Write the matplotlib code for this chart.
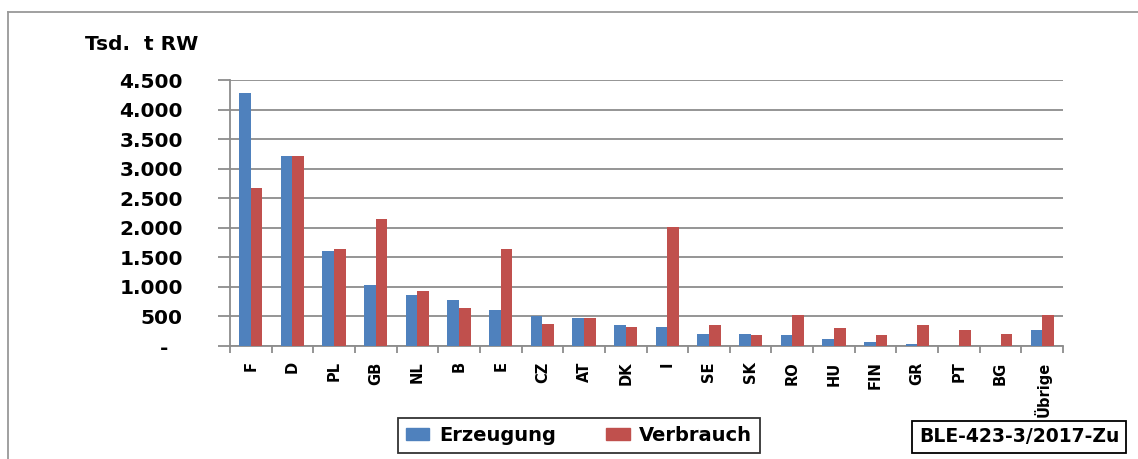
import matplotlib.pyplot as plt
import numpy as np
from matplotlib.lines import Line2D
from matplotlib.patches import Patch

laender = ['F', 'D', 'PL', 'GB', 'NL', 'B', 'E', 'CZ', 'AT', 'DK', 'I',
           'SE', 'SK', 'RO', 'HU', 'FIN', 'GR', 'PT', 'BG', 'Übrige']
erzeugung = [4275, 3215, 1615, 1040, 870, 785, 610, 500, 470, 355, 320,
             210, 210, 180, 125, 70, 40, 0, 0, 270]
verbrauch = [2675, 3215, 1640, 2155, 925, 640, 1640, 380, 470, 320, 2020,
             355, 180, 530, 300, 180, 355, 270, 210, 530]
y_ticks = [0, 500, 1000, 1500, 2000, 2500, 3000, 3500, 4000, 4500]
y_labels = ['-  ', '500', '1.000', '1.500', '2.000', '2.500', '3.000',
            '3.500', '4.000', '4.500']

blau = '#4F81BD'
rot = '#C0504D'
grau = '#8C8C8C'
plt.rcParams['font.family'] = ['DejaVu Sans']
plt.rcParams['font.weight'] = 'bold'

fig = plt.figure(figsize=(11.38, 4.59), dpi=100)
ax = fig.add_axes([230 / 1138, 1 - 346 / 459, (1063 - 230) / 1138, (346 - 80) / 459])

x = np.arange(len(laender))
w = 0.28
ax.bar(x - w / 2, erzeugung, w, color=blau, label='Erzeugung', zorder=3)
ax.bar(x + w / 2, verbrauch, w, color=rot, label='Verbrauch', zorder=3)

ax.set_xlim(-0.5, len(laender) - 0.5)
ax.set_ylim(0, 4500)
ax.set_yticks(y_ticks)
ax.set_yticklabels(y_labels, fontsize=14.5, fontweight='bold')
ax.set_xticks(x)
ax.set_xticklabels(laender, rotation=90, fontsize=10.5, fontweight='bold')
ax.set_xticks(np.arange(-0.5, len(laender)), minor=True)
ax.tick_params(axis='x', which='major', length=0, pad=11)
ax.tick_params(axis='x', which='minor', length=5, width=1.3, color=grau)
ax.tick_params(axis='y', length=9, width=1.3, color=grau, pad=25)

ax.grid(axis='y', color=grau, lw=1.3, zorder=0)
for s in ['top', 'right']:
    ax.spines[s].set_visible(False)
for s in ['left', 'bottom']:
    ax.spines[s].set_color(grau)
    ax.spines[s].set_linewidth(1.3)

fig.text(85 / 1138, 1 - 45 / 459, 'Tsd.  t RW', fontsize=14.5, fontweight='bold',
         ha='left', va='center')

handles = [Patch(color=blau), Patch(color=rot)]
leg = fig.legend(handles, ['Erzeugung', 'Verbrauch'], loc='center',
                 bbox_to_anchor=(579 / 1138, 1 - 435.5 / 459), ncol=2,
                 frameon=True, fancybox=False, handlelength=1.2,
                 handleheight=0.6, columnspacing=2.6, borderpad=0.4,
                 borderaxespad=0, handletextpad=0.5,
                 prop={'weight': 'bold', 'size': 14})
leg.get_frame().set_edgecolor('black')
leg.get_frame().set_linewidth(1.3)

fig.text(1019 / 1138, 1 - 437 / 459, 'BLE-423-3/2017-Zu', fontsize=13.5,
         fontweight='bold', ha='center', va='center',
         bbox=dict(boxstyle='square,pad=0.35', fc='white', ec='black', lw=1.3))

# äußerer Rahmen (nur links und oben sichtbar)
fig.add_artist(Line2D([8 / 1138, 8 / 1138], [0, 1 - 12 / 459], color='#999999', lw=1.3))
fig.add_artist(Line2D([8 / 1138, 1], [1 - 12 / 459, 1 - 12 / 459], color='#999999', lw=1.3))

fig.savefig('out.png', dpi=100)
